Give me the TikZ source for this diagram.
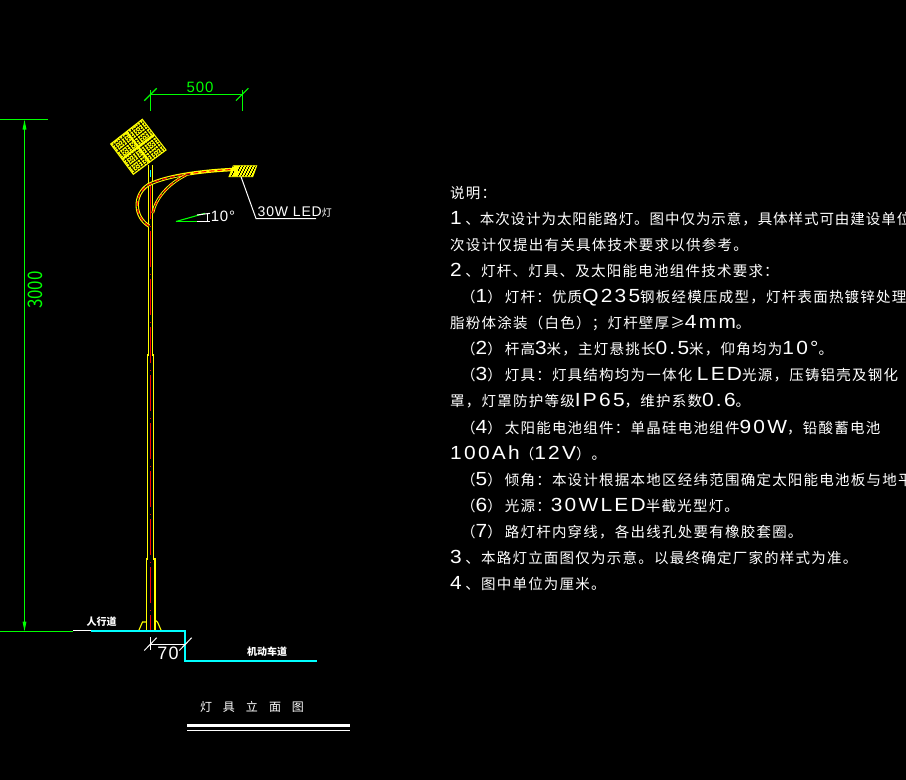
\documentclass[tikz,border=0pt]{standalone}
\usepackage{fontspec}
\usetikzlibrary{calc,arrows.meta}
\setmainfont[LetterSpace=8.5]{Noto Sans CJK SC}
\newfontfamily\lat[FakeStretch=1.1,LetterSpace=12]{Liberation Sans}
\newfontfamily\dimlat[LetterSpace=6]{Liberation Sans}
\newfontfamily\plain{Noto Sans CJK SC}
\newfontfamily\tightcjk[LetterSpace=6.5]{Noto Sans CJK SC}
\newcommand{\lt}[1]{{\fontsize{19}{19}\lat #1}}
\newcommand{\numsep}{\hspace{3.5pt}、}
\newcommand{\closep}{）\hspace{3pt}}
\definecolor{cadgreen}{RGB}{0,255,0}
\definecolor{cadcyan}{RGB}{0,255,255}
\definecolor{cadyellow}{RGB}{255,255,0}
\tikzset{
  x=1pt,y=-1pt,
  dimgreen/.style={draw=cadgreen,line width=1.1pt},
  dimwhite/.style={draw=white,line width=1pt},
  polestyle/.style={draw=cadyellow,line width=1.1pt},
  axisstyle/.style={draw=red,line width=1.1pt},
  hatch/.style={draw=cadyellow,line width=1.15pt,dash pattern=on 2.5pt off 1.2pt},
  kerb/.style={draw=cadcyan,line width=2.2pt},
  note/.style={anchor=base west,inner sep=0pt,text=white,font=\fontsize{14.5}{15}\selectfont},
  caption/.style={anchor=center,inner sep=0pt,text=white,font=\plain\bfseries\fontsize{10}{10}\selectfont},
  dimtext/.style={anchor=center,inner sep=0pt,font=\dimlat\fontsize{15}{15}\selectfont},
}
\begin{document}
\begin{tikzpicture}
\useasboundingbox (0,0) rectangle (906,780);
\clip (0,0) rectangle (906,780);
\fill[black] (0,0) rectangle (906,780);

% solar panel
\coordinate (T) at (142.3,119.3);
\coordinate (R) at (166,150);
\coordinate (B) at (133.3,174.3);
\coordinate (L) at (110.7,144);
\begin{scope}
\clip (T)--(R)--(B)--(L)--cycle;
\foreach \t in {0.03,0.10,...,1}{
  \draw[hatch] ($(L)!\t!(T)$) -- ($(B)!\t!(R)$);
  \draw[hatch] ($(L)!\t!(B)$) -- ($(T)!\t!(R)$);
}
\end{scope}
\draw[cadyellow,line width=1.1pt] (T)--(R)--(B)--(L)--cycle;
\draw[cadyellow,line width=2pt] ($(L)!.5!(T)$) -- ($(B)!.5!(R)$);
\draw[cadyellow,line width=2pt] ($(L)!.5!(B)$) -- ($(T)!.5!(R)$);

% pole
\draw[polestyle] (148.5,165) -- (148.5,355) -- (147.5,355) -- (147.5,559) -- (146.5,559) -- (146.5,630);
\draw[polestyle] (152.5,165) -- (152.5,355) -- (153.5,355) -- (153.5,559) -- (155,559) -- (155,630);
\draw[polestyle] (139,630) -- (142.5,622) -- (146.5,622);
\draw[polestyle] (161,630) -- (157.5,622) -- (155,620);
\draw[axisstyle,dash pattern=on 36pt off 7pt on 1pt off 4pt] (150.5,183) -- (150.5,630);
\draw[cadcyan,line width=0.9pt] (150.5,170) -- (150.5,177);

% arm
\coordinate (ArmEnd) at (233,169.5);
\draw[cadyellow,line width=3.4pt] (149,226) .. controls (134,217) and (133,195) .. (148,185)
   .. controls (165,176) and (200,171) .. (ArmEnd);
\draw[black,line width=1.2pt] (149,226) .. controls (134,217) and (133,195) .. (148,185)
   .. controls (160,179) and (175,176) .. (190,174);
\draw[red,line width=1pt,dash pattern=on 5pt off 3pt] (149,226) .. controls (134,217) and (133,195) .. (148,185)
   .. controls (165,176) and (200,171) .. (ArmEnd);
\draw[cadyellow,line width=2.8pt] (152.7,213) .. controls (156,198) and (168,184) .. (186,175);
\draw[black,line width=0.9pt] (152.7,213) .. controls (156,198) and (168,184) .. (186,175);
\draw[red,line width=0.9pt,dash pattern=on 5pt off 3pt] (152.7,213) .. controls (156,198) and (168,184) .. (186,175);

% lamp
\coordinate (LA) at (233.3,165.7);
\coordinate (LB) at (256.7,165.7);
\coordinate (LC) at (252.7,176.7);
\coordinate (LD) at (229,176.7);
\begin{scope}
\clip (LA)--(LB)--(LC)--(LD)--cycle;
\foreach \y/\p in {166/0,168/1,170/2,172/0,174/1,176/2}{
  \draw[cadyellow,line width=1.4pt,dash pattern=on 2.2pt off 0.9pt,dash phase=\p pt] (225,\y) -- (260,\y);
}
\end{scope}
\draw[cadyellow,line width=0.9pt] (LA)--(LB)--(LC)--(LD)--cycle;

% 500 dimension
\coordinate (D5a) at (150.5,94.5);
\coordinate (D5b) at (242.5,94.5);
\draw[dimgreen] (D5a) -- (D5b);
\draw[dimgreen] (150.5,90) -- (150.5,110.7);
\draw[dimgreen] (242.5,90) -- (242.5,110.7);
\draw[dimgreen] (144.3,100.7) -- (156.7,88.3);
\draw[dimgreen] (236,100.7) -- (248.4,88.3);
\node[dimtext,text=cadgreen] (t500) at (200,87) {500};

% 3000 dimension
\coordinate (D3a) at (24.5,119.5);
\coordinate (D3b) at (24.5,631.5);
\draw[dimgreen,{Triangle[length=10pt,width=3.6pt]}-{Triangle[length=10pt,width=3.6pt]}] (D3a) -- (D3b);
\draw[draw=cadgreen,line width=1.5pt] (0,119.5) -- (48,119.5);
\node[inner sep=0pt,text=cadgreen,rotate=90,font=\plain\fontsize{20}{20}\selectfont] (t3000) at (35.5,290) {\scalebox{.85}[1]{3000}};

% angle
\draw[dimgreen] (176,221.5) -- (205,213.3);
\draw[dimgreen] (176,221.5) -- (197,221.5);
\draw[dimwhite] (197,221.5) -- (210,221.5);
\draw[dimwhite] (197,215) -- (210,213.3);
\draw[dimwhite] (207.5,213.3) -- (207.5,221.5);
\node[dimtext,text=white] (t10) at (223,216.5) {10°};

% lamp leader
\coordinate (P1) at (241,176.7);
\coordinate (P2) at (256,218.5);
\coordinate (P3) at (316,218.5);
\draw[dimwhite] (P1) -- (P2) -- (P3);
\node[anchor=base west,inner sep=0pt,text=white,font=\dimlat\fontsize{14}{14}\selectfont] (tled) at (257.5,216.5) {30W LED{\plain\fontsize{10}{10}\selectfont 灯}};

% ground
\draw[draw=cadgreen,line width=1.5pt] (0,631.5) -- (73,631.5);
\draw[draw=white,line width=1.2pt] (73,630.5) -- (91,630.5);
\draw[kerb] (91,631) -- (185,631) -- (185,661) -- (317,661);
\node[caption] (walk) at (101.7,622) {人行道};
\node[caption] (road) at (267,652) {机动车道};

% 70 dimension
\coordinate (D7a) at (150.5,644.5);
\coordinate (D7b) at (185,644.5);
\draw[dimwhite] (D7a) -- (D7b);
\draw[dimwhite] (150.5,637) -- (150.5,650);
\draw[dimwhite] (144.3,650.5) -- (156.7,637.7);
\draw[dimwhite] (179.3,650.5) -- (191.7,637.7);
\node[dimtext,text=white,font=\dimlat\fontsize{18}{18}\selectfont] (t70) at (168,653) {70};

% title
\node[anchor=center,inner sep=0pt,text=white,font=\plain\fontsize{12}{12}\selectfont] (title) at (252,707) {灯\hspace{11pt}具\hspace{11pt}立\hspace{11pt}面\hspace{11pt}图};
\draw[draw=white,line width=2.8pt] (187,725.5) -- (350,725.5);
\draw[draw=white,line width=1pt] (187,730.5) -- (350,730.5);

% notes
\node[note] (n1) at (450,198) {说明：};
\node[note] (n2) at (450,224) {\lt{1}\numsep{\tightcjk 本次设计为太阳能路灯。图中仅为示意，具体样式可由建设单位}};
\node[note] (n3) at (450,250) {次设计仅提出有关具体技术要求以供参考。};
\node[note] (n4) at (450,276) {\lt{2}\numsep 灯杆、灯具、及太阳能电池组件技术要求：};
\node[note] (n5) at (461,302) {（\lt{1}\closep 灯杆：优质\lt{Q235}钢板经模压成型，灯杆表面热镀锌处理};
\node[note] (n6) at (450,328) {脂粉体涂装（白色）；灯杆壁厚≥\lt{4mm}。};
\node[note] (n7) at (461,354) {（\lt{2}\closep 杆高\lt{3}米，主灯悬挑长\lt{0.5}米，仰角均为\lt{10°}。};
\node[note] (n8) at (461,380) {（\lt{3}\closep 灯具：灯具结构均为一体化 \lt{LED}光源，压铸铝壳及钢化};
\node[note] (n9) at (450,406) {罩，灯罩防护等级\lt{IP65}，维护系数\lt{0.6}。};
\node[note] (n10) at (461,433) {（\lt{4}\closep 太阳能电池组件：单晶硅电池组件\lt{90W}，铅酸蓄电池};
\node[note] (n11) at (450,459) {\lt{100Ah}（\lt{12V}）。};
\node[note] (n12) at (461,485) {（\lt{5}\closep 倾角：本设计根据本地区经纬范围确定太阳能电池板与地平};
\node[note] (n13) at (461,511) {（\lt{6}\closep 光源：\lt{30WLED}半截光型灯。};
\node[note] (n14) at (461,537) {（\lt{7}\closep 路灯杆内穿线，各出线孔处要有橡胶套圈。};
\node[note] (n15) at (450,563) {\lt{3}\numsep 本路灯立面图仅为示意。以最终确定厂家的样式为准。};
\node[note] (n16) at (450,589) {\lt{4}\numsep 图中单位为厘米。};
\end{tikzpicture}
\end{document}
